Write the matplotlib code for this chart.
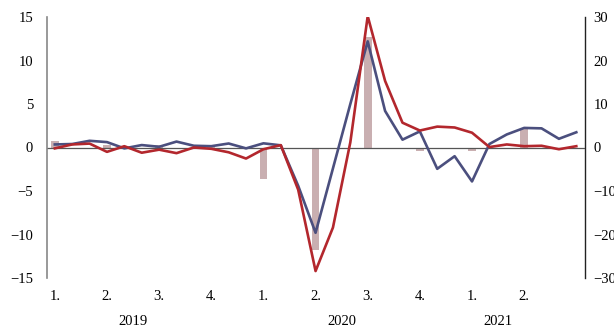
import matplotlib
matplotlib.use("Agg")
import matplotlib.pyplot as plt
import matplotlib.transforms as mtransforms

# Monthly series, Jan 2019 .. Jul 2021 (left axis)
red = [-0.1, 0.35, 0.45, -0.5, 0.15, -0.6, -0.25, -0.65, 0.0, -0.15, -0.55, -1.27,
       -0.2, 0.27, -4.85, -14.2, -9.2, 0.6, 15.1, 7.65, 2.85, 1.95, 2.4, 2.3,
       1.7, 0.05, 0.35, 0.15, 0.2, -0.2, 0.15]
blue = [0.35, 0.4, 0.77, 0.62, -0.1, 0.28, 0.08, 0.68, 0.2, 0.15, 0.46, -0.1,
        0.48, 0.25, -4.4, -9.8, -2.4, 5.0, 12.2, 4.2, 0.9, 1.85, -2.45, -1.0,
        -3.9, 0.4, 1.5, 2.25, 2.2, 1.0, 1.75]
# Quarterly bars (right axis), Q1 2019 .. Q2 2021, placed at first month of quarter
bar_months = [0, 3, 6, 9, 12, 15, 18, 21, 24, 27]
bars = [1.5, 0.5, 0.6, 0.2, -7.2, -23.6, 25.4, -0.8, -0.8, 4.2]

quarter_labels = ["1.", "2.", "3.", "4.", "1.", "2.", "3.", "4.", "1.", "2."]
quarter_pos = [0, 3, 6, 9, 12, 15, 18, 21, 24, 27]
years = ["2019", "2020", "2021"]
year_pos = [4.5, 16.5, 25.5]
left_ticks = [-15, -10, -5, 0, 5, 10, 15]
right_ticks = [-30, -20, -10, 0, 10, 20, 30]

plt.rcParams['font.family'] = ['Liberation Serif', 'DejaVu Serif']

fig = plt.figure(figsize=(6.14, 3.27), dpi=100)
ax = fig.add_axes([47/614, 1-278/327, (585-47)/614, (278-17)/327])
ax2 = ax.twinx()
ax.set_zorder(ax2.get_zorder() + 1)
ax.patch.set_visible(False)

months = list(range(len(red)))
ax2.bar(bar_months, bars, width=0.45, color="#c9afb1", zorder=1)
ax2.set_ylim(-30, 30)

ax.axhline(0, color="#555555", lw=0.9, zorder=1)
ax.plot(months, blue, color="#4b4f7e", lw=1.9, zorder=3)
ax.plot(months, red, color="#b3272d", lw=1.9, zorder=4)
ax.set_ylim(-15, 15)
ax.set_xlim(-0.45, 30.5)

ax.set_yticks(left_ticks)
ax.set_yticklabels([str(t).replace("-", "\u2212") for t in left_ticks])
ax2.set_yticks(right_ticks)
ax2.set_yticklabels([str(t).replace("-", "\u2212") for t in right_ticks])
ax.set_xticks(quarter_pos)
ax.set_xticklabels(quarter_labels)

ax.tick_params(axis="y", length=0, pad=10, labelsize=10.5)
ax.tick_params(axis="x", length=0, pad=9, labelsize=10.5)
ax2.tick_params(axis="y", length=0, pad=6, labelsize=10.5)

for a in (ax, ax2):
    for s in ("top", "bottom"):
        a.spines[s].set_visible(False)
ax.spines["right"].set_visible(False)
ax2.spines["left"].set_visible(False)
ax.spines["left"].set_color("#888888")
ax.spines["left"].set_linewidth(1.2)
ax2.spines["right"].set_color("#222222")
ax2.spines["right"].set_linewidth(1.0)

trans = mtransforms.blended_transform_factory(ax.transData, ax.transAxes)
for y, p in zip(years, year_pos):
    ax.text(p, -0.165, y, transform=trans, ha="center", va="center", fontsize=10.5)

fig.savefig("out.png", dpi=100)
